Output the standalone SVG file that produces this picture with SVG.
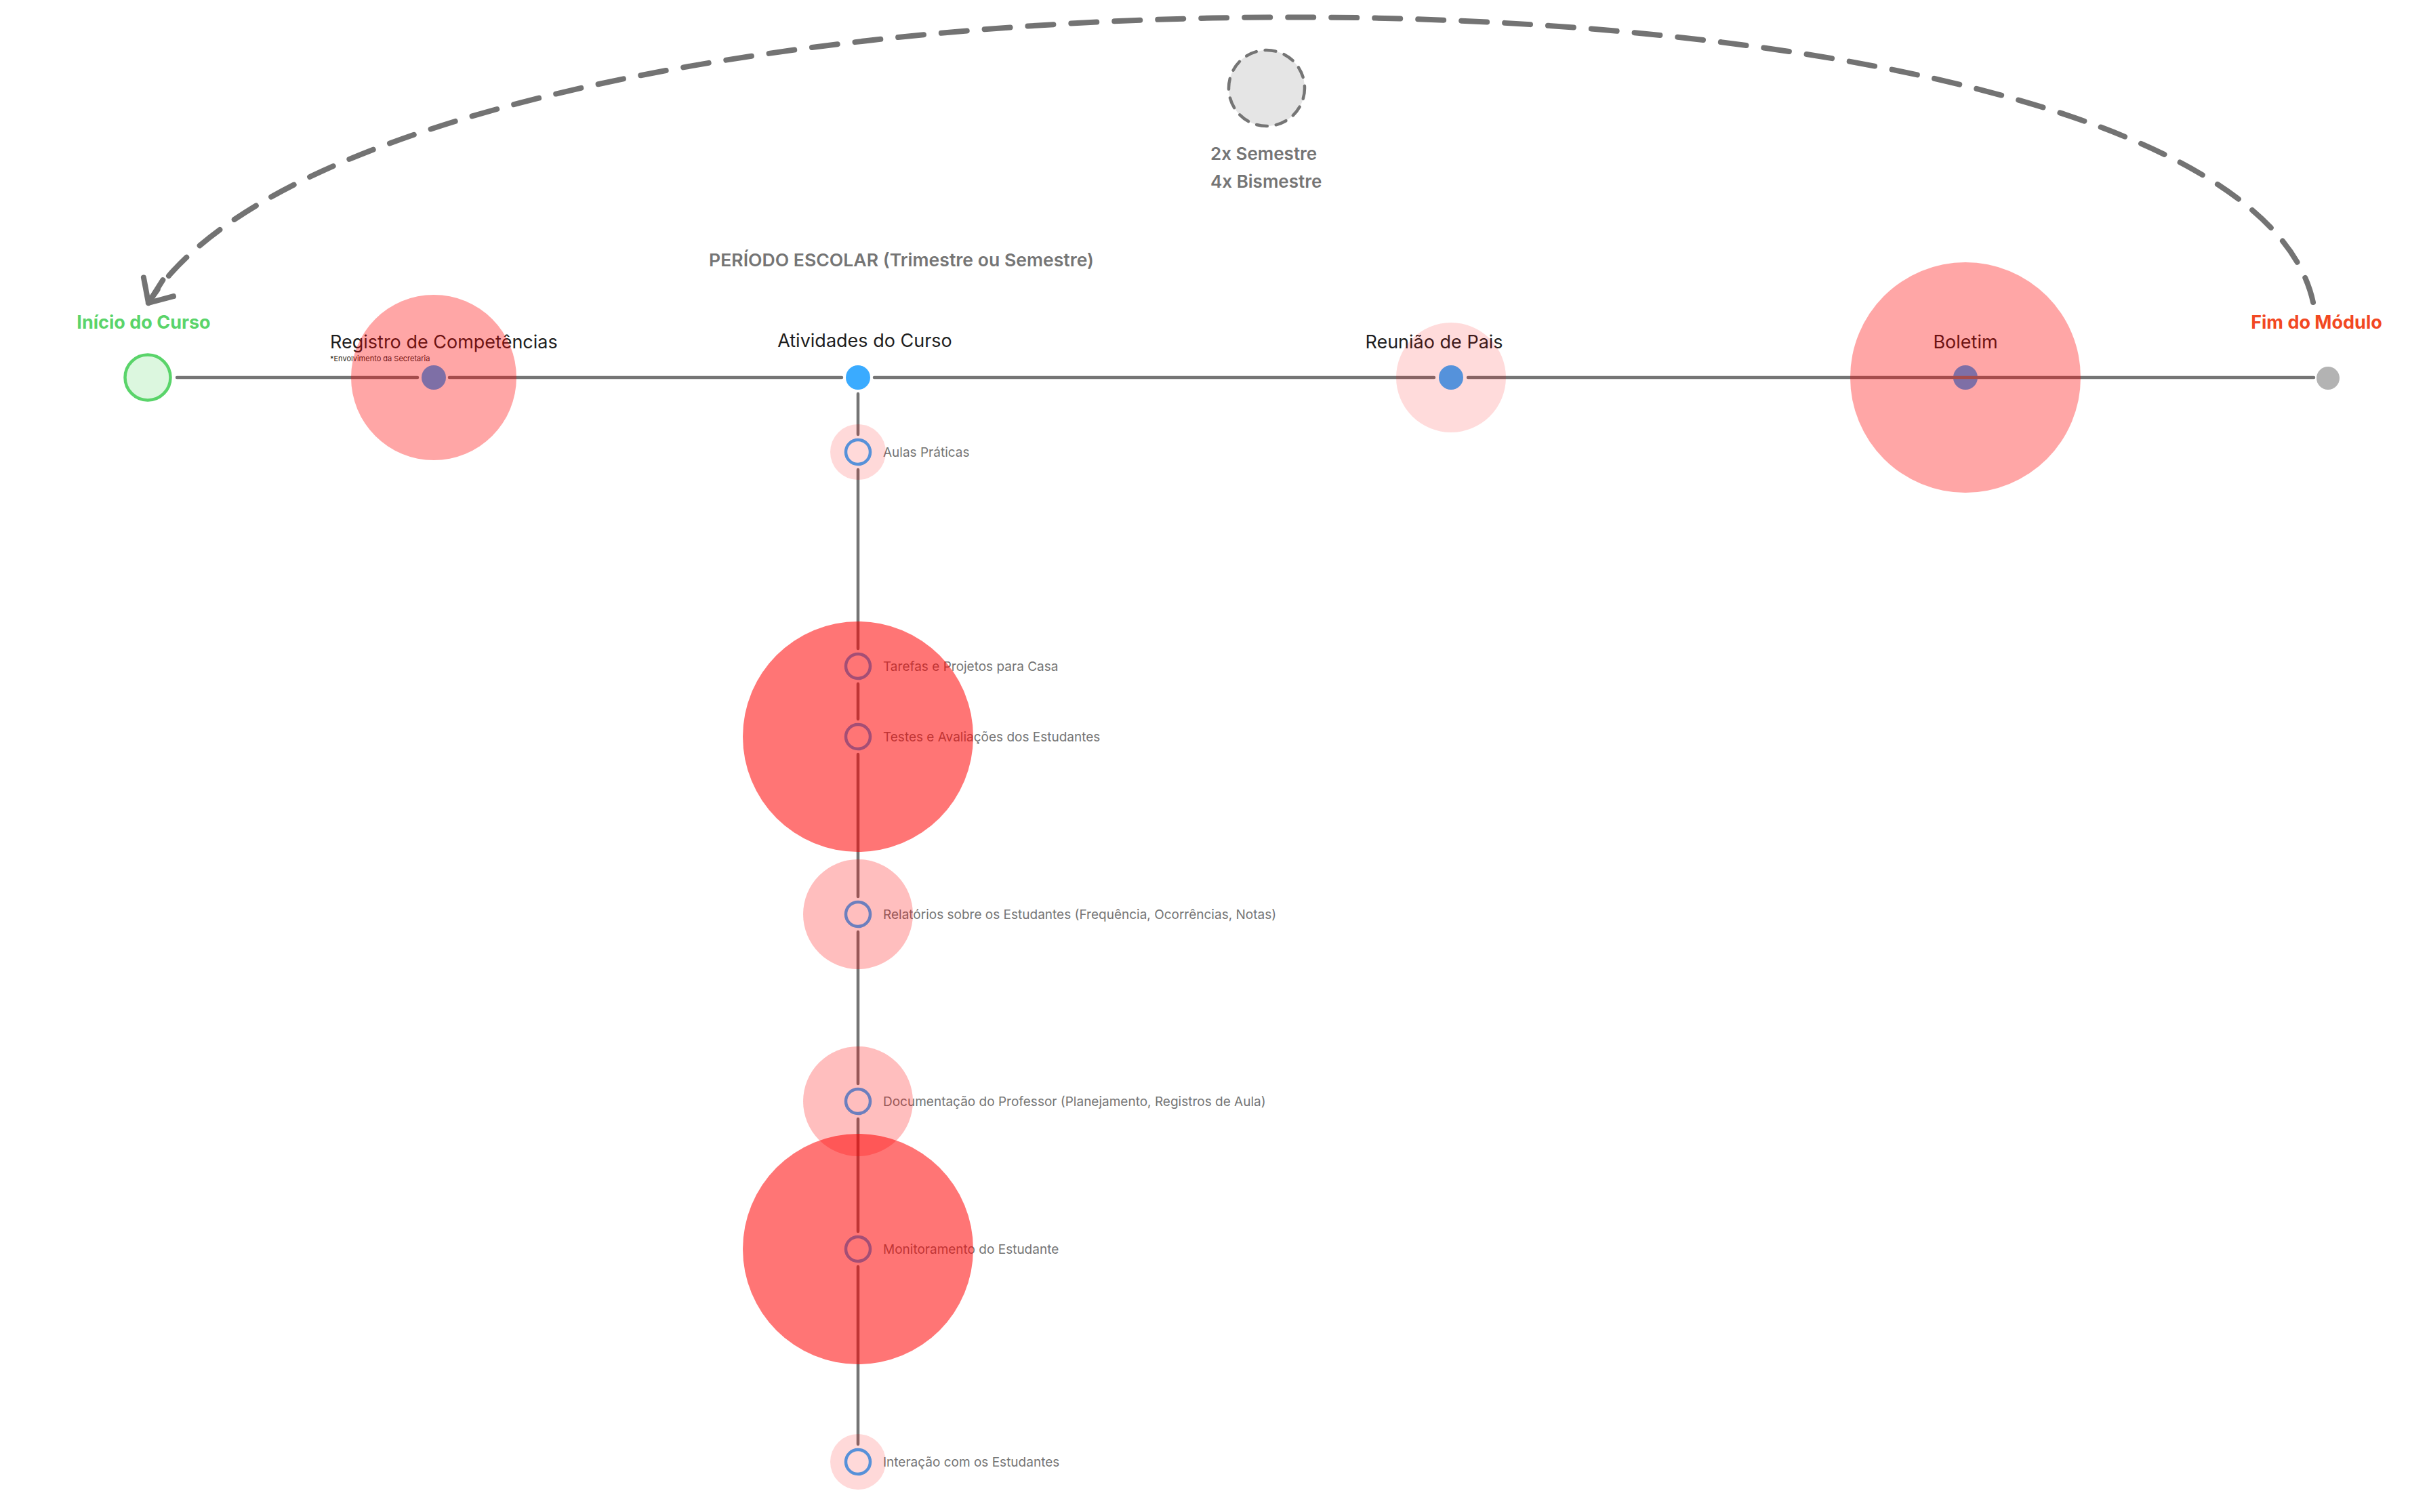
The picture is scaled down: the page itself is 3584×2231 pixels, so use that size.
<svg xmlns="http://www.w3.org/2000/svg" width="3584" height="2231" viewBox="0 0 3584 2231">
<style>
  .bg{fill:#ffffff}
  .conn{stroke:#757575;stroke-width:4.5;stroke-linecap:round;fill:none}
  .loop{stroke:#737373;stroke-width:8;stroke-linecap:round;fill:none;stroke-dasharray:38 26}
  .dot{fill:#3aabff}
  .ring{fill:none;stroke:#3aabff;stroke-width:4.5}
  .hl{fill:#ff0000}
  .title{font-family:Inter,"Liberation Sans",sans-serif;font-size:27px;fill:#1e1e1e}
  .sub{font-family:Inter,"Liberation Sans",sans-serif;font-size:19px;fill:#757575}
  .gray{font-family:Inter,"Liberation Sans",sans-serif;font-weight:600;fill:#757575}
</style>
<defs>
  <marker id="arrow" markerUnits="userSpaceOnUse" viewBox="-50 -40 60 80" refX="0" refY="0" markerWidth="60" markerHeight="80" orient="auto">
    <path d="M -28 -26 L 0 0 L -28 26 M 0 0 L -40 0" fill="none" stroke="#737373" stroke-width="8" stroke-linecap="round" stroke-linejoin="round"/>
  </marker>
</defs>
<rect class="bg" x="0" y="0" width="3584" height="2231"/>

<g id="node-inicio">
  <circle cx="218" cy="557" r="33.5" fill="#dcf7df" stroke="#5ad46a" stroke-width="4.5"/>
  <text x="212" y="485" text-anchor="middle" font-family="Inter, 'Liberation Sans', sans-serif" font-size="27" font-weight="700" fill="#5ad46a">Início do Curso</text>
</g>
<g id="node-registro">
  <circle class="dot" cx="640" cy="557" r="18"/>
  <text class="title" x="487" y="514">Registro de Competências</text>
  <text x="487" y="533" font-family="Inter, 'Liberation Sans', sans-serif" font-size="11" fill="#1e1e1e">*Envolvimento da Secretaria</text>
</g>
<g id="node-atividades">
  <circle class="dot" cx="1266" cy="557" r="18"/>
  <text class="title" x="1276" y="512" text-anchor="middle">Atividades do Curso</text>
</g>
<g id="node-reuniao">
  <circle class="dot" cx="2141" cy="557" r="18"/>
  <text class="title" x="2116" y="514" text-anchor="middle">Reunião de Pais</text>
</g>
<g id="node-boletim">
  <circle class="dot" cx="2900" cy="557" r="18"/>
  <text class="title" x="2900" y="514" text-anchor="middle">Boletim</text>
</g>
<g id="node-fim">
  <circle cx="3435" cy="558" r="17" fill="#b3b3b3"/>
  <text x="3418" y="485" text-anchor="middle" font-family="Inter, 'Liberation Sans', sans-serif" font-size="27" font-weight="700" fill="#f24822">Fim do Módulo</text>
</g>
<g id="node-periodo">
  <text class="gray" x="1046" y="393" font-size="26" textLength="568" lengthAdjust="spacingAndGlyphs">PERÍODO ESCOLAR (Trimestre ou Semestre)</text>
</g>
<g id="node-frequencia">
  <circle cx="1869" cy="130" r="56" fill="#e5e5e5" stroke="#757575" stroke-width="4.5" stroke-dasharray="16 13" stroke-linecap="round"/>
  <text class="gray" x="1786" y="236" font-size="26">2x Semestre</text>
  <text class="gray" x="1786" y="277" font-size="26">4x Bismestre</text>
</g>
<g id="node-aulas">
  <circle class="ring" cx="1266" cy="667" r="18"/>
  <text class="sub" x="1303" y="674">Aulas Práticas</text>
</g>
<g id="node-tarefas">
  <circle class="ring" cx="1266" cy="983" r="18"/>
  <text class="sub" x="1303" y="990">Tarefas e Projetos para Casa</text>
</g>
<g id="node-testes">
  <circle class="ring" cx="1266" cy="1087" r="18"/>
  <text class="sub" x="1303" y="1094">Testes e Avaliações dos Estudantes</text>
</g>
<g id="node-relatorios">
  <circle class="ring" cx="1266" cy="1349" r="18"/>
  <text class="sub" x="1303" y="1356">Relatórios sobre os Estudantes (Frequência, Ocorrências, Notas)</text>
</g>
<g id="node-documentacao">
  <circle class="ring" cx="1266" cy="1625" r="18"/>
  <text class="sub" x="1303" y="1632">Documentação do Professor (Planejamento, Registros de Aula)</text>
</g>
<g id="node-monitoramento">
  <circle class="ring" cx="1266" cy="1843" r="18"/>
  <text class="sub" x="1303" y="1850">Monitoramento do Estudante</text>
</g>
<g id="node-interacao">
  <circle class="ring" cx="1266" cy="2157" r="18"/>
  <text class="sub" x="1303" y="2164">Interação com os Estudantes</text>
</g>

<g id="connectors">
  <line class="conn" x1="261" y1="557" x2="616" y2="557"/>
  <line class="conn" x1="663" y1="557" x2="1242" y2="557"/>
  <line class="conn" x1="1290" y1="557" x2="2116" y2="557"/>
  <line class="conn" x1="2166" y1="557" x2="3414" y2="557"/>
  <line class="conn" x1="1266" y1="581" x2="1266" y2="641"/>
  <line class="conn" x1="1266" y1="693" x2="1266" y2="957"/>
  <line class="conn" x1="1266" y1="1009" x2="1266" y2="1061"/>
  <line class="conn" x1="1266" y1="1113" x2="1266" y2="1323"/>
  <line class="conn" x1="1266" y1="1375" x2="1266" y2="1599"/>
  <line class="conn" x1="1266" y1="1651" x2="1266" y2="1817"/>
  <line class="conn" x1="1266" y1="1869" x2="1266" y2="2131"/>
  <path class="loop" d="M 3413 446 C 3290 -118, 571 -112, 219 447" marker-end="url(#arrow)"/>
</g>

<g id="highlights">
  <circle class="hl" cx="640" cy="557" r="122" fill-opacity="0.35"/>
  <circle class="hl" cx="2141" cy="557" r="81" fill-opacity="0.14"/>
  <circle class="hl" cx="2900" cy="557" r="170" fill-opacity="0.35"/>
  <circle class="hl" cx="1266" cy="667" r="41" fill-opacity="0.15"/>
  <circle class="hl" cx="1266" cy="1087" r="170" fill-opacity="0.54"/>
  <circle class="hl" cx="1266" cy="1349" r="81" fill-opacity="0.255"/>
  <circle class="hl" cx="1266" cy="1625" r="81" fill-opacity="0.255"/>
  <circle class="hl" cx="1266" cy="1843" r="170" fill-opacity="0.54"/>
  <circle class="hl" cx="1266" cy="2157" r="41" fill-opacity="0.15"/>
</g>
</svg>
